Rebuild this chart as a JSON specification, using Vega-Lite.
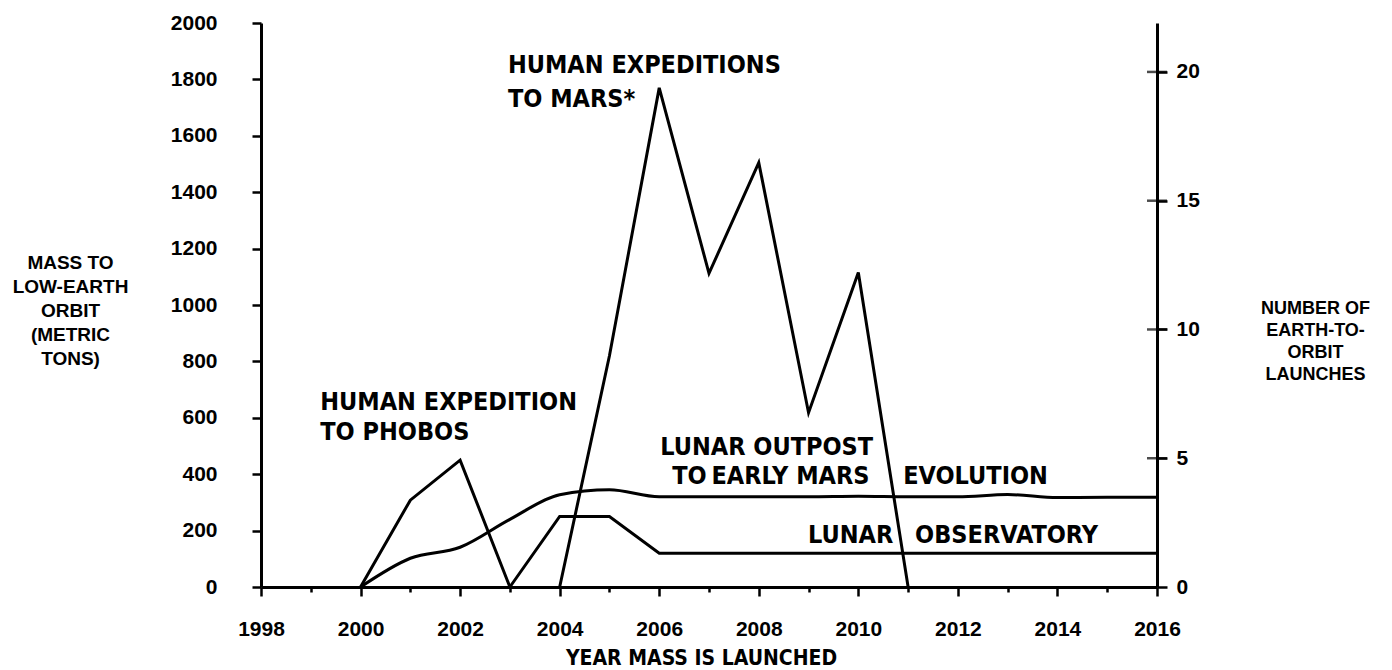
{
  "$schema": "https://vega.github.io/schema/vega-lite/v6.json",
  "width": 896,
  "height": 564,
  "autosize": {"type": "none"},
  "padding": {"left": 261, "top": 23, "right": 235, "bottom": 83},
  "background": "white",
  "config": {
    "view": {"stroke": null},
    "axis": {
      "grid": false,
      "domainColor": "black",
      "domainWidth": 3,
      "tickColor": "black",
      "tickWidth": 2.5,
      "labelColor": "black",
      "labelFont": "Liberation Sans",
      "labelFontWeight": "bold",
      "labelFontSize": 21,
      "titleColor": "black",
      "titleFont": "Liberation Sans",
      "titleFontWeight": "bold"
    }
  },
  "datasets": {
    "series": [
      {"series": "Human expedition to Phobos", "year": 2000, "mass": 0},
      {"series": "Human expedition to Phobos", "year": 2001, "mass": 308},
      {"series": "Human expedition to Phobos", "year": 2002, "mass": 450},
      {"series": "Human expedition to Phobos", "year": 2003, "mass": 0},
      {"series": "Human expeditions to Mars", "year": 2004, "mass": 0},
      {"series": "Human expeditions to Mars", "year": 2005, "mass": 820},
      {"series": "Human expeditions to Mars", "year": 2006, "mass": 1770},
      {"series": "Human expeditions to Mars", "year": 2007, "mass": 1112},
      {"series": "Human expeditions to Mars", "year": 2008, "mass": 1505},
      {"series": "Human expeditions to Mars", "year": 2009, "mass": 618},
      {"series": "Human expeditions to Mars", "year": 2010, "mass": 1115},
      {"series": "Human expeditions to Mars", "year": 2011, "mass": 0},
      {"series": "Lunar observatory", "year": 2003, "mass": 0},
      {"series": "Lunar observatory", "year": 2004, "mass": 250},
      {"series": "Lunar observatory", "year": 2005, "mass": 250},
      {"series": "Lunar observatory", "year": 2006, "mass": 120},
      {"series": "Lunar observatory", "year": 2008, "mass": 120},
      {"series": "Lunar observatory", "year": 2010, "mass": 120},
      {"series": "Lunar observatory", "year": 2012, "mass": 120},
      {"series": "Lunar observatory", "year": 2014, "mass": 120},
      {"series": "Lunar observatory", "year": 2016, "mass": 120},
      {"series": "Lunar outpost to early Mars evolution", "year": 2000, "mass": 0},
      {"series": "Lunar outpost to early Mars evolution", "year": 2001, "mass": 102},
      {"series": "Lunar outpost to early Mars evolution", "year": 2002, "mass": 141},
      {"series": "Lunar outpost to early Mars evolution", "year": 2003, "mass": 240},
      {"series": "Lunar outpost to early Mars evolution", "year": 2004, "mass": 327},
      {"series": "Lunar outpost to early Mars evolution", "year": 2005, "mass": 345},
      {"series": "Lunar outpost to early Mars evolution", "year": 2006, "mass": 320},
      {"series": "Lunar outpost to early Mars evolution", "year": 2007, "mass": 320},
      {"series": "Lunar outpost to early Mars evolution", "year": 2008, "mass": 320},
      {"series": "Lunar outpost to early Mars evolution", "year": 2009, "mass": 320},
      {"series": "Lunar outpost to early Mars evolution", "year": 2010, "mass": 322},
      {"series": "Lunar outpost to early Mars evolution", "year": 2011, "mass": 320},
      {"series": "Lunar outpost to early Mars evolution", "year": 2012, "mass": 320},
      {"series": "Lunar outpost to early Mars evolution", "year": 2013, "mass": 328},
      {"series": "Lunar outpost to early Mars evolution", "year": 2014, "mass": 317},
      {"series": "Lunar outpost to early Mars evolution", "year": 2015, "mass": 318},
      {"series": "Lunar outpost to early Mars evolution", "year": 2016, "mass": 318}
    ],
    "annotations": [
      {"label": "HUMAN EXPEDITIONS", "year": 2002.96, "mass": 1823},
      {"label": "TO MARS*", "year": 2002.96, "mass": 1702},
      {"label": "HUMAN EXPEDITION", "year": 1999.19, "mass": 628},
      {"label": "TO PHOBOS", "year": 1999.19, "mass": 521},
      {"label": "LUNAR OUTPOST", "year": 2006.02, "mass": 468},
      {"label": "TO", "year": 2006.26, "mass": 365},
      {"label": "EARLY MARS", "year": 2007.05, "mass": 365},
      {"label": "EVOLUTION", "year": 2010.9, "mass": 365},
      {"label": "LUNAR", "year": 2008.99, "mass": 156},
      {"label": "OBSERVATORY", "year": 2011.14, "mass": 156}
    ],
    "launchTicks": [
      {"launches": 5},
      {"launches": 10},
      {"launches": 15},
      {"launches": 20}
    ]
  },
  "layer": [
    {
      "encoding": {
        "x": {
          "field": "year",
          "type": "quantitative",
          "scale": {"domain": [1998, 2016], "nice": false, "zero": false},
          "axis": {
            "values": [1998, 1999, 2000, 2001, 2002, 2003, 2004, 2005, 2006, 2007, 2008, 2009, 2010, 2011, 2012, 2013, 2014, 2015, 2016],
            "format": "d",
            "labelExpr": "datum.value % 2 === 0 ? datum.label : ''",
            "tickSize": {"condition": {"test": "datum.value % 2 === 0", "value": 9}, "value": 5},
            "labelPadding": 22,
            "labelFlush": false,
            "labelOverlap": false,
            "labelBound": false,
            "title": "YEAR MASS IS LAUNCHED",
            "titleFont": "DejaVu Sans Condensed, Liberation Sans",
            "titleFontSize": 21,
            "titleAlign": "center",
            "titleBaseline": "alphabetic",
            "titleX": 440,
            "titleY": 77
          }
        },
        "y": {
          "field": "mass",
          "type": "quantitative",
          "scale": {"domain": [0, 2000], "nice": false},
          "axis": {
            "values": [0, 200, 400, 600, 800, 1000, 1200, 1400, 1600, 1800, 2000],
            "format": "d",
            "tickSize": 9,
            "labelPadding": 35,
            "title": ["MASS TO", "LOW-EARTH", "ORBIT", "(METRIC", "TONS)"],
            "titleAngle": 0,
            "titleAlign": "center",
            "titleBaseline": "middle",
            "titleFontSize": 19,
            "titleLineHeight": 24,
            "titleX": -191,
            "titleY": 239
          }
        }
      },
      "layer": [
        {
          "data": {"name": "series"},
          "transform": [{"filter": "datum.series !== 'Lunar outpost to early Mars evolution'"}],
          "mark": {"type": "line", "color": "black", "strokeWidth": 3, "interpolate": "linear"},
          "encoding": {"detail": {"field": "series"}}
        },
        {
          "data": {"name": "series"},
          "transform": [{"filter": "datum.series === 'Lunar outpost to early Mars evolution'"}],
          "mark": {"type": "line", "color": "black", "strokeWidth": 3, "interpolate": "monotone"},
          "encoding": {"detail": {"field": "series"}}
        },
        {
          "data": {"name": "annotations"},
          "mark": {"type": "text", "align": "left", "baseline": "alphabetic", "font": "DejaVu Sans Condensed, Liberation Sans", "fontWeight": "bold", "fontSize": 25, "color": "black"},
          "encoding": {"text": {"field": "label"}}
        }
      ]
    },
    {
      "data": {"name": "launchTicks"},
      "mark": {"type": "tick", "orient": "horizontal", "color": "black", "size": 20, "thickness": 2.5},
      "encoding": {
        "x": {"datum": 2016, "type": "quantitative"},
        "y": {
          "field": "launches",
          "type": "quantitative",
          "scale": {"domain": [0, 21.9], "nice": false},
          "axis": {
            "orient": "right",
            "values": [0, 5, 10, 15, 20],
            "tickSize": 10,
            "labelPadding": 9,
            "title": ["NUMBER OF", "EARTH-TO-", "ORBIT", "LAUNCHES"],
            "titleAngle": 0,
            "titleAlign": "center",
            "titleBaseline": "middle",
            "titleFontSize": 18,
            "titleLineHeight": 22,
            "titleX": 158,
            "titleY": 285
          }
        }
      }
    }
  ],
  "resolve": {"scale": {"y": "independent"}, "axis": {"y": "independent"}}
}
